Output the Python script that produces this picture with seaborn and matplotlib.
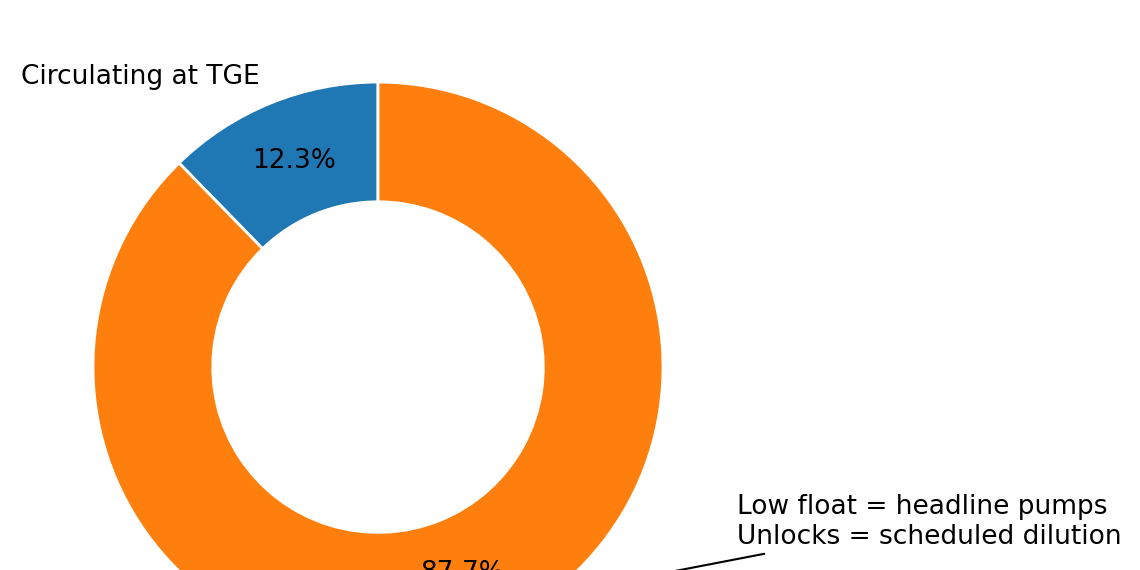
import matplotlib
matplotlib.use('Agg')
import matplotlib.pyplot as plt
import seaborn as sns

sns.set_style('white')
plt.rcParams['font.family'] = ['DejaVu Sans']
plt.rcParams['text.color'] = 'black'

# Data
labels = ['Circulating at TGE', 'Locked / vesting']
shares = [12.3, 87.7]
colors = sns.color_palette('tab10')[:2]

fig = plt.figure(figsize=(11.4, 5.7), dpi=100)
ax = fig.add_axes([0.0816, -0.144, 0.5, 1.0])

wedges, texts, autotexts = ax.pie(
    shares, labels=labels, colors=colors, startangle=90,
    autopct='%1.1f%%', pctdistance=0.78, labeldistance=1.1,
    wedgeprops=dict(width=0.42, edgecolor='white', linewidth=2),
    textprops=dict(fontsize=19, color='black'))
ax.set_aspect('equal')
ax.set_xlim(-1, 1)
ax.set_ylim(-1, 1)

ax.annotate('Low float = headline pumps\nUnlocks = scheduled dilution',
            xy=(0.5, -0.82), xycoords='data',
            xytext=(737 / 1140, 1 - 522 / 570), textcoords='figure fraction',
            fontsize=19, va='center', ha='left', color='black',
            arrowprops=dict(arrowstyle='-', color='black', lw=1.5),
            annotation_clip=False)

fig.savefig('out.png', dpi=100)
